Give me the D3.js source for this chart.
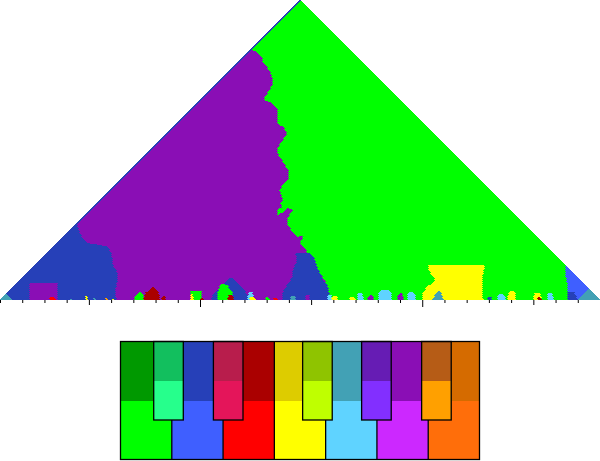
<!DOCTYPE html>
<html><head><meta charset="utf-8">
<script src="https://cdn.jsdelivr.net/npm/d3@7"></script>
<style>html,body{margin:0;padding:0;background:#fff;} svg{display:block;}</style>
</head><body>
<svg id="chart" width="600" height="461"></svg>
<script>
// ---------------- data ----------------
const totalMeasures = 27;
const keyNames = ["C","C#","D","D#","E","F","F#","G","G#","A","A#","B"];
const majorColors = ["#00ff00","#26ff8c","#3f5fff","#e4155a","#ff0000","#ffff00","#bfff00","#5fd3ff","#822fff","#cc28ff","#ffa000","#ff6e0a"];
const minorColors = ["#009900","#12bf5e","#2640b8","#b81d4c","#aa0000","#ddcc00","#8fc400","#42a1b5","#661cb4","#8a0eb5","#b65c16","#d56b00"];

// background key of the whole keyscape
const baseKey = "a";
// key regions: outlines in [time (measures), analysis window (measures)], drawn in order
const regions = [
  {key:"C", pts:[[13.5,27.45],[27.9,-1.35],[14.85,-1.35],[14.85,0],[14.72,1.35],[14.4,2.43],[14.09,3.6],[13.82,4.05],[13.77,4.5],[13.5,5.13],[13.59,5.4],[13.64,5.85],[13.41,5.67],[13.19,6.03],[13.05,6.48],[12.92,6.93],[12.96,7.47],[13.19,8.1],[12.96,8.28],[12.74,7.92],[12.51,7.65],[12.47,8.1],[12.69,8.37],[12.6,8.73],[12.74,8.82],[12.69,9.27],[12.56,9.9],[12.74,10.35],[12.96,10.8],[12.96,11.7],[12.83,12.15],[12.69,12.6],[12.47,13.23],[12.51,13.77],[12.74,14.4],[12.92,15.03],[12.74,15.57],[12.47,15.93],[12.47,17.28],[12.24,17.73],[11.84,18.0],[11.93,18.27],[12.06,18.72],[12.2,19.17],[12.29,19.62],[12.24,20.07],[12.15,20.52],[12.02,20.97],[11.84,21.33],[11.79,21.78],[11.61,22.23],[11.39,22.5],[11.34,22.68],[11.03,22.95],[13.05,27.45]]},
  {key:"d", pts:[[-0.5,0],[0.085,0],[13.585,27],[13.0,27]]},
  {key:"d", pts:[[3.15,7.02],[3.47,6.93],[3.51,6.57],[3.6,6.03],[3.74,5.49],[3.92,5.13],[4.5,4.95],[4.86,4.77],[5.0,4.23],[5.09,3.15],[5.27,2.52],[5.31,1.8],[5.22,1.17],[5.18,0.27],[5.27,0],[5.27,-0.9],[-0.45,-0.9]]},
  {key:"a", pts:[[1.31,1.53],[2.57,1.53],[2.57,-0.5],[1.31,-0.5]]},
  {key:"g", pts:[[-0.3,-0.5],[0.52,-0.5],[0.5,0.05],[0.27,0.66],[-0.3,0.66]]},
  {key:"d", pts:[[13.32,4.23],[13.95,4.23],[14.04,4.05],[14.18,3.6],[14.27,2.97],[14.4,2.43],[14.54,1.8],[14.72,1.35],[14.81,0.72],[14.85,0],[14.85,-0.9],[12.69,-0.9],[12.69,0],[12.74,0.72],[12.92,1.35],[13.14,1.98],[13.19,2.7],[13.37,3.6],[13.32,3.96]]},
  {key:"d", pts:[[9.45,-0.5],[9.5,0],[9.59,0.45],[9.9,1.17],[10.22,1.8],[10.44,2.07],[10.67,1.62],[10.94,1.08],[11.16,0.27],[11.25,-0.5]]},
  {key:"C", pts:[[9.77,-0.5],[9.77,0.3],[9.86,1.17],[9.95,1.44],[10.22,1.35],[10.44,0.72],[10.53,0],[10.53,-0.5]]},
  {key:"C", pts:[[8.55,-0.5],[8.55,0.81],[9.05,0.81],[9.05,-0.5]]},
  {key:"e", pts:[[6.4,-0.5],[6.44,0],[6.57,0.72],[6.75,0.9],[6.89,1.17],[7.07,0.9],[7.16,0.45],[7.2,0],[7.2,-0.5]]},
  {key:"C", pts:[[5.99,-0.5],[5.99,0],[6.17,0.54],[6.3,0.81],[6.44,0.45],[6.48,0],[6.48,-0.5]]},
  {key:"F", pts:[[19.26,3.15],[21.83,3.15],[21.74,2.43],[21.69,1.17],[21.74,0],[21.74,-0.5],[18.99,-0.5],[18.99,0],[19.04,0.72],[19.22,1.17],[19.44,1.53],[19.58,1.8],[19.44,2.25],[19.26,2.7]]},
  {key:"g", pts:[[19.44,-0.5],[19.44,0],[19.62,0.63],[19.8,0.81],[19.98,0],[19.98,-0.5]]},
  {key:"D", pts:[[25.47,3.06],[28.8,3.06],[28.8,-0.9],[25.56,-0.9],[25.56,0.9],[25.52,1.62],[25.43,2.43]]},
  {key:"d", pts:[[25.52,-0.5],[25.52,0.72],[25.83,0.72],[26.01,0],[26.01,-0.5]]},
  {key:"g", pts:[[25.97,-0.5],[25.97,0],[26.5,0.99],[28,0.99],[28,-0.5]]}
];
// small local key areas at the bottom: [start, end, window height, key]
const bottomBlobs = [
  [2.25,2.48,0.27,"E"],[3.15,3.24,0.18,"g"],[3.83,3.96,0.36,"F"],[4.19,4.28,0.27,"g"],
  [4.73,4.82,0.18,"A#"],[5.04,5.13,0.18,"F"],[7.29,7.43,0.36,"e"],[8.55,8.69,0.54,"F"],
  [9.0,9.14,0.18,"e"],[10.26,10.49,0.45,"e"],[11.16,11.39,0.72,"G"],[11.25,11.48,0.27,"F"],
  [11.93,12.11,0.27,"C"],[12.29,12.47,0.18,"E"],[13.05,13.28,0.36,"g"],[13.73,13.95,0.45,"a"],
  [14.72,14.94,0.45,"G"],[14.94,15.17,0.36,"F"],[15.75,15.98,0.27,"F"],[16.07,16.34,0.63,"G"],
  [16.56,16.83,0.45,"a"],[17.01,17.64,0.9,"G"],[17.91,18.14,0.63,"a"],[18.32,18.68,0.72,"G"],
  [21.96,22.14,0.27,"d"],[22.41,22.73,0.54,"G"],[22.86,23.22,0.81,"F"],[23.99,24.35,0.63,"F"],
  [24.17,24.35,0.27,"e"],[24.62,24.89,0.63,"G"]
];
const measureStarts = d3.range(0, totalMeasures);
const whiteKeys = [0,2,4,5,7,9,11];
const blackKeys = [1,3,6,8,10];
const blackKeyCenters = [0.936, 2.1, 3.84, 4.99, 6.16]; // in white-key widths

// ---------------- helpers ----------------
function keyColor(k) {
  const major = k[0] === k[0].toUpperCase();
  const idx = keyNames.indexOf(k[0].toUpperCase() + k.slice(1));
  return major ? majorColors[idx] : minorColors[idx];
}

const svg = d3.select("#chart");
const x = d3.scaleLinear().domain([0, totalMeasures]).range([0, 600]);
const y = d3.scaleLinear().domain([0, totalMeasures]).range([300, 0]);
const gridCells = 300;
const unit = totalMeasures / gridCells;

const shapes = regions.map(r => ({key: r.key, pts: r.pts}));
bottomBlobs.forEach(([t0, t1, h, k]) => {
  const q = (t1 - t0) * 0.25;
  shapes.push({key: k, pts: [[t0,-0.5],[t0,h*0.6],[t0+q,h],[t1-q,h],[t1,h*0.6],[t1,-0.5]]});
});
shapes.forEach(s => {
  s.tmin = d3.min(s.pts, p => p[0]); s.tmax = d3.max(s.pts, p => p[0]);
  s.wmin = d3.min(s.pts, p => p[1]); s.wmax = d3.max(s.pts, p => p[1]);
});
function lookup(t, w) {
  for (let i = shapes.length - 1; i >= 0; i--) {
    const s = shapes[i];
    if (t < s.tmin || t > s.tmax || w < s.wmin || w > s.wmax) continue;
    if (d3.polygonContains(s.pts, [t, w])) return s.key;
  }
  return baseKey;
}

// ---------------- keyscape cells ----------------
const runs = [];
for (let r = 0; r < gridCells; r++) {
  const w0 = r * unit, w1 = (r + 1) * unit, wc = (r + 0.5) * unit;
  const n = gridCells - r;
  let runKey = null, runStart = 0;
  for (let j = 0; j <= n; j++) {
    let k = null;
    if (j < n) k = lookup((r / 2 + j + 0.5) * unit, wc);
    if (k !== runKey) {
      if (runKey !== null) runs.push({t0: (r / 2 + runStart) * unit, t1: (r / 2 + j) * unit, w0, w1, key: runKey});
      runKey = k; runStart = j;
    }
  }
}
svg.append("g").attr("shape-rendering", "crispEdges")
  .selectAll("rect").data(runs).join("rect")
  .attr("x", d => x(d.t0)).attr("y", d => y(d.w1))
  .attr("width", d => x(d.t1) - x(d.t0)).attr("height", d => y(d.w0) - y(d.w1))
  .attr("fill", d => keyColor(d.key));

// ---------------- measure ticks ----------------
const axis = d3.axisBottom(x).tickValues(measureStarts).tickSize(3).tickFormat("");
const ag = svg.append("g").attr("transform", "translate(0,300)").call(axis);
ag.select(".domain").remove();
ag.selectAll(".tick line").attr("stroke", "#000")
  .attr("y2", d => (d + 1) % 10 === 0 ? 7 : (d + 1) % 5 === 0 ? 5 : 3);

// ---------------- keyboard legend ----------------
const kbTop = 341.5, kbBottom = 459.5, whiteSplit = 401, blackSplit = 381, blackBottom = 420;
const kx = d3.scaleLinear().domain([0, 7]).range([120.5, 479.5]);
const blackW = 0.577;
const kb = svg.append("g");
kb.selectAll("rect.wu").data(whiteKeys).join("rect").attr("class", "wu")
  .attr("x", (d, i) => kx(i)).attr("y", kbTop).attr("width", kx(1) - kx(0)).attr("height", whiteSplit - kbTop)
  .attr("fill", d => minorColors[d]);
kb.selectAll("rect.wl").data(whiteKeys).join("rect").attr("class", "wl")
  .attr("x", (d, i) => kx(i)).attr("y", whiteSplit).attr("width", kx(1) - kx(0)).attr("height", kbBottom - whiteSplit)
  .attr("fill", d => majorColors[d]);
kb.selectAll("line.div").data(d3.range(1, 7)).join("line").attr("class", "div")
  .attr("x1", d => kx(d)).attr("x2", d => kx(d)).attr("y1", kbTop).attr("y2", kbBottom)
  .attr("stroke", "#000").attr("stroke-width", 1.3);
blackKeys.forEach((k, i) => {
  const bx = kx(blackKeyCenters[i] - blackW / 2), bw = kx(blackW) - kx(0);
  kb.append("rect").attr("x", bx).attr("y", kbTop).attr("width", bw).attr("height", blackSplit - kbTop).attr("fill", minorColors[k]);
  kb.append("rect").attr("x", bx).attr("y", blackSplit).attr("width", bw).attr("height", blackBottom - blackSplit).attr("fill", majorColors[k]);
  kb.append("rect").attr("x", bx).attr("y", kbTop).attr("width", bw).attr("height", blackBottom - kbTop)
    .attr("fill", "none").attr("stroke", "#000").attr("stroke-width", 1.3);
});
kb.append("rect").attr("x", kx(0)).attr("y", kbTop).attr("width", kx(7) - kx(0)).attr("height", kbBottom - kbTop)
  .attr("fill", "none").attr("stroke", "#000").attr("stroke-width", 1.3);
</script>
</body></html>
